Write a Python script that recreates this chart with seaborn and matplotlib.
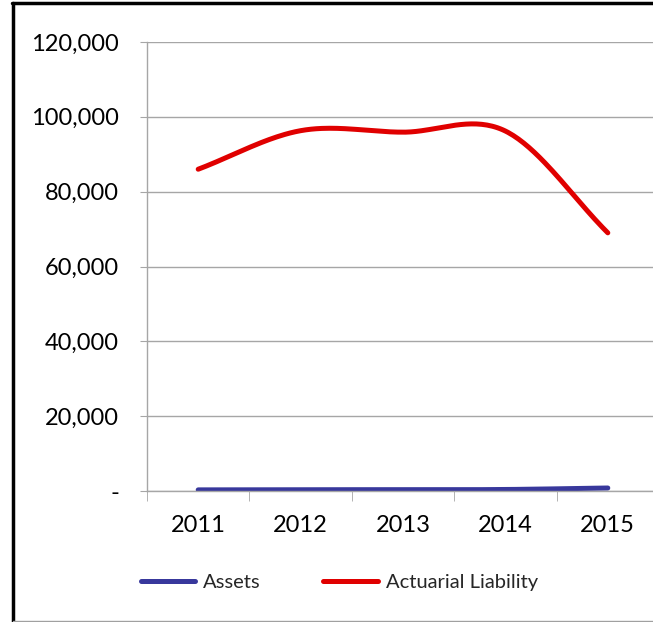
import numpy as np
import pandas as pd
import seaborn as sns
import matplotlib.pyplot as plt
from matplotlib.lines import Line2D
from matplotlib.ticker import FuncFormatter

years = ['2011', '2012', '2013', '2014', '2015']
assets = [300, 350, 350, 400, 800]
liability = [86000, 96300, 95900, 96200, 69000]
series_names = ['Assets', 'Actuarial Liability']
colors = ['#38389c', '#e00000']


def smooth(values, n=40):
    # Excel-style smoothed line (Catmull-Rom through the points)
    p = np.asarray(values, dtype=float)
    ext = np.concatenate([[p[0]], p, [p[-1]]])
    xs, ys = [], []
    for i in range(len(p) - 1):
        p0, p1, p2, p3 = ext[i], ext[i + 1], ext[i + 2], ext[i + 3]
        m1 = (p2 - p0) / 2
        m2 = (p3 - p1) / 2
        if i == 0:
            m1 = p2 - p1
        if i == len(p) - 2:
            m2 = p2 - p1
        t = np.linspace(0, 1, n)
        h00 = 2 * t**3 - 3 * t**2 + 1
        h10 = t**3 - 2 * t**2 + t
        h01 = -2 * t**3 + 3 * t**2
        h11 = t**3 - t**2
        xs.append(i + t)
        ys.append(h00 * p1 + h10 * m1 + h01 * p2 + h11 * m2)
    return np.concatenate(xs), np.concatenate(ys)


frames = []
for name, vals in zip(series_names, [assets, liability]):
    x, y = smooth(vals)
    frames.append(pd.DataFrame({'x': x, 'y': y, 'series': name}))
df = pd.concat(frames, ignore_index=True)

sns.set_style('white')
plt.rcParams['font.family'] = ['Lato', 'DejaVu Sans']

fig = plt.figure(figsize=(6.53, 6.22), dpi=100)
ax = fig.add_axes([147 / 653, 1 - 491 / 622, 512 / 653, 449 / 622])

sns.lineplot(data=df, x='x', y='y', hue='series', palette=colors,
             sort=False, linewidth=3.6, ax=ax, legend=False,
             solid_capstyle='round')

ax.set_xlim(-0.5, 4.5)
ax.set_ylim(0, 120000)
ax.set_yticks(range(0, 120001, 20000))
ax.yaxis.set_major_formatter(FuncFormatter(lambda v, _: '-' if v == 0 else f'{v:,.0f}'))
ax.set_xticks(range(len(years)))
ax.set_xticklabels(years)
ax.set_xticks(np.arange(-0.5, 5, 1), minor=True)
ax.set_xlabel('')
ax.set_ylabel('')

ax.grid(axis='y', color='#a6a6a6', linewidth=1)
ax.set_axisbelow(True)
for s in ['top', 'right']:
    ax.spines[s].set_visible(False)
for s in ['left', 'bottom']:
    ax.spines[s].set_color('#a6a6a6')
    ax.spines[s].set_linewidth(1)

ax.tick_params(axis='y', which='major', length=5, color='#a6a6a6', pad=15,
               labelsize=17, labelcolor='black', left=True)
ax.tick_params(axis='x', which='major', length=0, pad=17, labelsize=17,
               labelcolor='black')
ax.tick_params(axis='x', which='minor', length=7, color='#a6a6a6', bottom=True)

handles = [Line2D([], [], color=c, linewidth=3.6, solid_capstyle='round') for c in colors]
fig.legend(handles, series_names, loc='center left',
           bbox_to_anchor=(141 / 653, 1 - 582 / 622), ncol=2, frameon=False,
           borderpad=0, borderaxespad=0,
           fontsize=14.5, handlelength=2.7, handletextpad=0.4, columnspacing=3.1)

# chart frame
fig.add_artist(Line2D([13 / 653, 13 / 653], [0, 1 - 3 / 622], color='black', linewidth=2.5,
                      transform=fig.transFigure))
fig.add_artist(Line2D([12 / 653, 1], [1 - 3 / 622, 1 - 3 / 622], color='black', linewidth=2.5,
                      transform=fig.transFigure))
fig.add_artist(Line2D([13 / 653, 1], [1.5 / 622, 1.5 / 622], color='#a0a0a0', linewidth=1,
                      transform=fig.transFigure))

fig.savefig('out.png', dpi=100)
